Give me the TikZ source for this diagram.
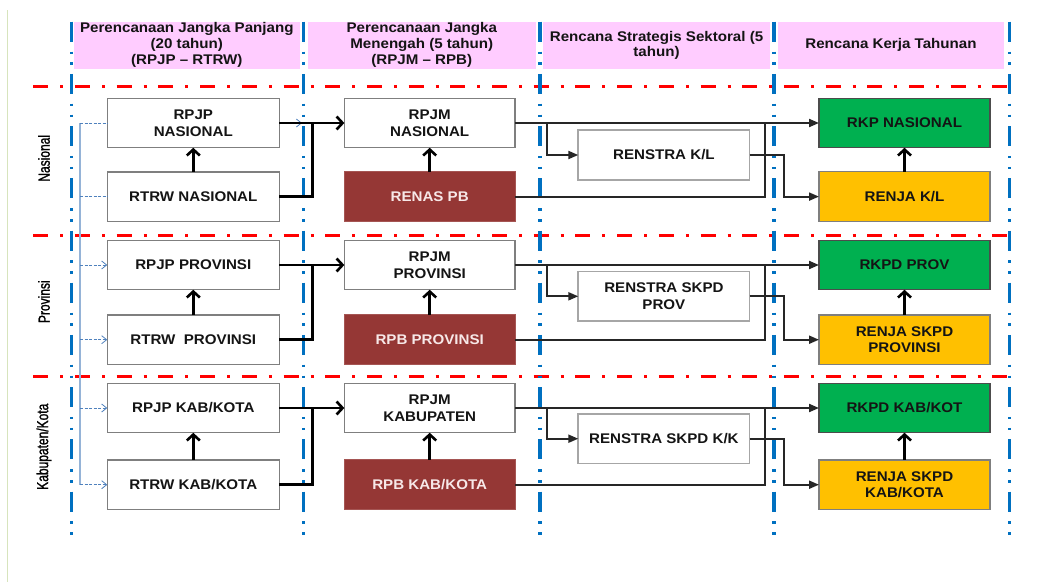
\documentclass[tikz,border=0pt]{standalone}
\usepackage{fontspec}
\setmainfont{Liberation Sans}[FakeStretch=1.08]
\newfontfamily\narrowfont{Liberation Sans}[FakeStretch=0.75,FakeBold=1.2]
\usetikzlibrary{arrows.meta}
\definecolor{pinkhdr}{HTML}{FFCCFF}
\definecolor{bluev}{HTML}{0070C0}
\definecolor{redh}{HTML}{FF0000}
\definecolor{darkred}{HTML}{953735}
\definecolor{grn}{HTML}{00B050}
\definecolor{yel}{HTML}{FFC000}
\definecolor{thinblue}{HTML}{4F81BD}
\definecolor{lightblue}{HTML}{95B3D7}
\definecolor{lgreen}{HTML}{D7E4BD}
\definecolor{txt}{HTML}{141414}
\definecolor{conn}{HTML}{262626}
\definecolor{boxborder}{HTML}{7F7F7F}
\definecolor{renborder}{HTML}{A6A6A6}
\definecolor{pbtext}{HTML}{F7E8E8}
\tikzset{
  hdr/.style={fill=pinkhdr, draw=none, minimum height=47.3pt, inner sep=0pt,
    align=center, font=\fontsize{14}{16}\selectfont\bfseries, text=txt},
  box/.style={minimum width=172pt, minimum height=49.5pt, inner sep=0pt, outer sep=0pt,
    align=center, font=\fontsize{14}{16.5}\selectfont\bfseries, text=txt},
  wbox/.style={box, fill=white, draw=boxborder, line width=1.4pt},
  rbox/.style={box, fill=white, draw=renborder, line width=1.8pt},
  pbbox/.style={box, fill=darkred, draw=darkred!85!white, line width=1pt, text=pbtext},
  gbox/.style={box, fill=grn, draw=black!70, line width=1.2pt},
  ybox/.style={box, fill=yel, draw=boxborder, line width=1.2pt},
  redline/.style={draw=redh, line width=3pt, dash pattern=on 15pt off 12pt on 3pt off 11.7pt},
  blueline/.style={draw=bluev, line width=3.5pt, dash pattern=on 20pt off 9.8pt on 2.5pt off 8.4pt on 2.5pt off 9pt},
  thk/.style={draw=black, line width=2.6pt, -{Straight Barb[length=6pt,width=13pt]}},
  thkl/.style={draw=black, line width=2.6pt},
  mid/.style={draw=conn, line width=2pt, -{Triangle[length=10pt,width=8pt]}},
  midl/.style={draw=conn, line width=2pt},
  blv/.style={draw=lightblue, line width=1.2pt},
  bl/.style={draw=thinblue, line width=0.9pt, dash pattern=on 3pt off 1.5pt},
  bla/.style={bl, -{Straight Barb[length=5pt,width=8pt,line width=0.8pt]}},
  lbl/.style={rotate=90, font=\narrowfont\fontsize{16}{18}\selectfont, text=black, inner sep=0pt}
}
\begin{document}
\begin{tikzpicture}[x=1pt,y=-1pt]
\useasboundingbox (0,0) rectangle (1060,582);
\fill[white] (0,0) rectangle (1060,582);
% slide edge
\draw[lgreen, line width=1.5pt] (7.3,10) -- (7.3,582);
% headers
\node[hdr, minimum width=225.6pt] (h1) at (186.8,45.35) {Perencanaan Jangka Panjang\\(20 tahun)\\(RPJP -- RTRW)};
\node[hdr, minimum width=227.5pt] (h2) at (421.75,45.35) {Perencanaan Jangka\\Menengah (5 tahun)\\(RPJM -- RPB)};
\node[hdr, minimum width=226.3pt, font=\fontsize{14}{15.6}\selectfont\bfseries] (h3) at (656.55,45.35) {Rencana Strategis Sektoral (5\\tahun)};
\node[hdr, minimum width=226.7pt] (h4) at (890.95,45.35) {Rencana Kerja Tahunan};
% red separators
\foreach \yy in {86,235,376.5} \draw[redline] (33.3,\yy) -- (1009.3,\yy);
% blue column lines
\foreach \xx in {71.7,303.3,540,774,1009.3} \draw[blueline] (\xx,21.7) -- (\xx,536);
% row labels
\node[lbl] (lnas) at (44,158.3) {Nasional};
\node[lbl] (lprov) at (44,301.7) {Provinsi};
\node[lbl] (lkab) at (44,446.7) {Kabupaten/Kota};
% boxes row 1
\node[wbox] (rpjp1) at (193.3,123) {RPJP\\NASIONAL};
\node[wbox] (rtrw1) at (193.3,196.6) {RTRW NASIONAL};
\node[wbox, minimum width=170.7pt] (rpjm1) at (429.7,123) {RPJM\\NASIONAL};
\node[pbbox, minimum width=170.7pt] (pb1) at (429.7,196.6) {RENAS PB};
\node[rbox, minimum width=171.2pt] (ren1) at (663.9,155) {RENSTRA K/L};
\node[gbox, minimum width=171pt] (rk1) at (904.5,123) {RKP NASIONAL};
\node[ybox, minimum width=171pt] (rj1) at (904.5,196.6) {RENJA K/L};
% boxes row 2
\node[wbox] (rpjp2) at (193.3,265) {RPJP PROVINSI};
\node[wbox] (rtrw2) at (193.3,339.7) {RTRW~~PROVINSI};
\node[wbox, minimum width=170.7pt] (rpjm2) at (429.7,265) {RPJM\\PROVINSI};
\node[pbbox, minimum width=170.7pt] (pb2) at (429.7,339.7) {RPB PROVINSI};
\node[rbox, minimum width=171.2pt] (ren2) at (663.9,296.3) {RENSTRA SKPD\\PROV};
\node[gbox, minimum width=171pt] (rk2) at (904.5,265) {RKPD PROV};
\node[ybox, minimum width=171pt] (rj2) at (904.5,339.7) {RENJA SKPD\\PROVINSI};
% boxes row 3
\node[wbox] (rpjp3) at (193.3,408) {RPJP KAB/KOTA};
\node[wbox] (rtrw3) at (193.3,484.7) {RTRW KAB/KOTA};
\node[wbox, minimum width=170.7pt] (rpjm3) at (429.7,408) {RPJM\\KABUPATEN};
\node[pbbox, minimum width=170.7pt] (pb3) at (429.7,484.7) {RPB KAB/KOTA};
\node[rbox, minimum width=171.2pt] (ren3) at (663.9,438.7) {RENSTRA SKPD K/K};
\node[gbox, minimum width=171pt] (rk3) at (904.5,408) {RKPD KAB/KOT};
\node[ybox, minimum width=171pt] (rj3) at (904.5,484.7) {RENJA SKPD\\KAB/KOTA};
% coordinates
\coordinate (vt) at (80,123);
\coordinate (vn2) at (80,196.6);
\coordinate (vp1) at (80,265);
\coordinate (vp2) at (80,339.7);
\coordinate (vk1) at (80,408);
\coordinate (vb) at (80,484.7);
\coordinate (bt) at (302,123);
\coordinate (j1) at (312.3,123);
\coordinate (j2) at (312.3,265);
\coordinate (j3) at (312.3,408);
\coordinate (b1) at (546.7,123);
\coordinate (b2) at (546.7,265);
\coordinate (b3) at (546.7,408);
\coordinate (k1) at (765,123);
\coordinate (k2) at (765,265);
\coordinate (k3) at (765,408);
\coordinate (m1) at (784.3,155);
\coordinate (m2) at (784.3,296.3);
\coordinate (m3) at (784.3,438.7);
% thin blue links
\draw[blv] (vt) -- (vb);
\draw[bl] (vt) -- (rpjp1.west);
\draw[bl] (vn2) -- (rtrw1.west);
\draw[bla] (vp1) -- (rpjp2.west);
\draw[bla] (vp2) -- (rtrw2.west);
\draw[bla] (vk1) -- (rpjp3.west);
\draw[bla] (vb) -- (rtrw3.west);
\draw[bla] (rpjp1.east) -- (bt);
% black connectors
\foreach \r in {1,2,3}{
  \draw[thk] (rtrw\r.north) -- (rpjp\r.south);
  \draw[thk] (pb\r.north) -- (rpjm\r.south);
  \draw[thk] (rj\r.north) -- (rk\r.south);
  \draw[thk] (rpjp\r.east) -- (rpjm\r.west);
  \draw[thkl] (rtrw\r.east) -| (j\r);
  \draw[mid] (rpjm\r.east) -- (rk\r.west);
  \draw[mid] (b\r) |- (ren\r.west);
  \draw[midl] (pb\r.east) -| (k\r);
  \draw[mid] (ren\r.east) -- (m\r) |- (rj\r.west);
}
\end{tikzpicture}
\end{document}
